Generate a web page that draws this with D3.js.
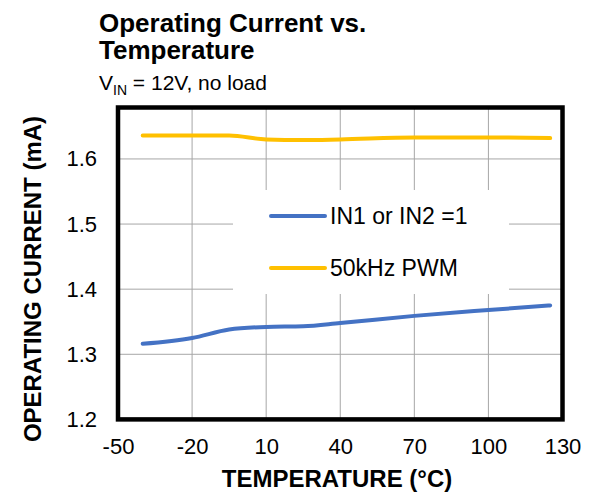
<!DOCTYPE html>
<html>
<head>
<meta charset="utf-8">
<script src="https://cdn.jsdelivr.net/npm/d3@7"></script>
<style>
  body { margin: 0; background: #fff; }
  svg { font-family: "Liberation Sans", Arial, sans-serif; }
</style>
</head>
<body>
<div id="chart"></div>
<script>
// data
var temps = [-40, -20, -5, 10, 25, 40, 70, 100, 125];
var in1or2 = [1.316, 1.325, 1.338, 1.342, 1.343, 1.348, 1.359, 1.368, 1.375];
var pwm50k = [1.636, 1.636, 1.636, 1.630, 1.629, 1.630, 1.633, 1.633, 1.632];
var xTicks = [-50, -20, 10, 40, 70, 100, 130];
var yTicks = [1.2, 1.3, 1.4, 1.5, 1.6];
var seriesNames = ["IN1 or IN2 =1", "50kHz PWM"];
var seriesColors = ["#4472C4", "#FFC000"];

const W = 593, H = 497;
const plot = {left: 118, right: 562.5, top: 107.5, bottom: 419.4};

var svg = d3.select("#chart").append("svg")
    .attr("width", W)
    .attr("height", H);

var xScale = d3.scaleLinear().domain([-50, 130]).range([plot.left, plot.right]);
var yScale = d3.scaleLinear().domain([1.2, 1.679]).range([plot.bottom, plot.top]);

// titles
svg.append("text")
    .attr("x", 99).attr("y", 32)
    .style("font-size", "26px").style("font-weight", "bold")
    .text("Operating Current vs.");
svg.append("text")
    .attr("x", 99).attr("y", 59)
    .style("font-size", "26px").style("font-weight", "bold")
    .text("Temperature");
var sub = svg.append("text")
    .attr("x", 99).attr("y", 90)
    .style("font-size", "21px");
sub.append("tspan").text("V");
sub.append("tspan").attr("dy", 5).style("font-size", "14px").text("IN");
sub.append("tspan").attr("dy", -5).text(" = 12V, no load");

// grid
var grid = svg.append("g").attr("class", "grid");
grid.selectAll("line.vx")
    .data(xTicks.slice(1, -1))
    .enter().append("line")
    .attr("x1", d => xScale(d)).attr("x2", d => xScale(d))
    .attr("y1", plot.top).attr("y2", plot.bottom)
    .style("stroke", "#a6a6a6").style("stroke-width", 1);
grid.selectAll("line.hy")
    .data(yTicks.slice(1))
    .enter().append("line")
    .attr("x1", plot.left).attr("x2", plot.right)
    .attr("y1", d => yScale(d)).attr("y2", d => yScale(d))
    .style("stroke", "#a6a6a6").style("stroke-width", 1);

// axes (labels only, frame drawn separately)
var xAxis = d3.axisBottom(xScale).tickValues(xTicks).tickSize(0).tickPadding(19)
    .tickFormat(d => String(d));
var yAxis = d3.axisLeft(yScale).tickValues(yTicks).tickSize(0).tickPadding(21)
    .tickFormat(d => d.toFixed(1));

var gx = svg.append("g")
    .attr("transform", "translate(0," + plot.bottom + ")")
    .call(xAxis);
var gy = svg.append("g")
    .attr("transform", "translate(" + plot.left + ",0)")
    .call(yAxis);
[gx, gy].forEach(function(g) {
    g.select(".domain").remove();
    g.selectAll("text").style("font-size", "22px").style("fill", "#000")
        .style("font-family", "'Liberation Sans', Arial, sans-serif");
});

svg.append("text")
    .attr("x", 337).attr("y", 487)
    .attr("text-anchor", "middle")
    .style("font-size", "24px").style("font-weight", "bold")
    .text("TEMPERATURE (°C)");
svg.append("text")
    .attr("transform", "translate(41,279) rotate(-90)")
    .attr("text-anchor", "middle")
    .style("font-size", "24px").style("font-weight", "bold")
    .text("OPERATING CURRENT (mA)");

// legend box (white, covers grid)
svg.append("rect")
    .attr("x", 233).attr("y", 190)
    .attr("width", 276).attr("height", 104)
    .style("fill", "#fff");

// series
var line = d3.line()
    .x(d => xScale(d[0]))
    .y(d => yScale(d[1]))
    .curve(d3.curveMonotoneX);

[in1or2, pwm50k].forEach(function(vals, i) {
    svg.append("path")
        .datum(temps.map((t, j) => [t, vals[j]]))
        .attr("d", line)
        .style("fill", "none")
        .style("stroke", seriesColors[i])
        .style("stroke-width", 4)
        .style("stroke-linecap", "round");
});

// legend
var leg = svg.selectAll("g.leg")
    .data(seriesNames)
    .enter().append("g")
    .attr("class", "leg")
    .attr("transform", (d, i) => "translate(0," + (216 + i * 52) + ")");
leg.append("line")
    .attr("x1", 271).attr("x2", 325)
    .style("stroke", (d, i) => seriesColors[i])
    .style("stroke-width", 4)
    .style("stroke-linecap", "round");
leg.append("text")
    .attr("x", 330).attr("y", 8)
    .style("font-size", "23px")
    .text(d => d);

// frame
svg.append("rect")
    .attr("x", plot.left).attr("y", plot.top)
    .attr("width", plot.right - plot.left)
    .attr("height", plot.bottom - plot.top)
    .style("fill", "none")
    .style("stroke", "#000")
    .style("stroke-width", 4.5);
</script>
</body>
</html>
